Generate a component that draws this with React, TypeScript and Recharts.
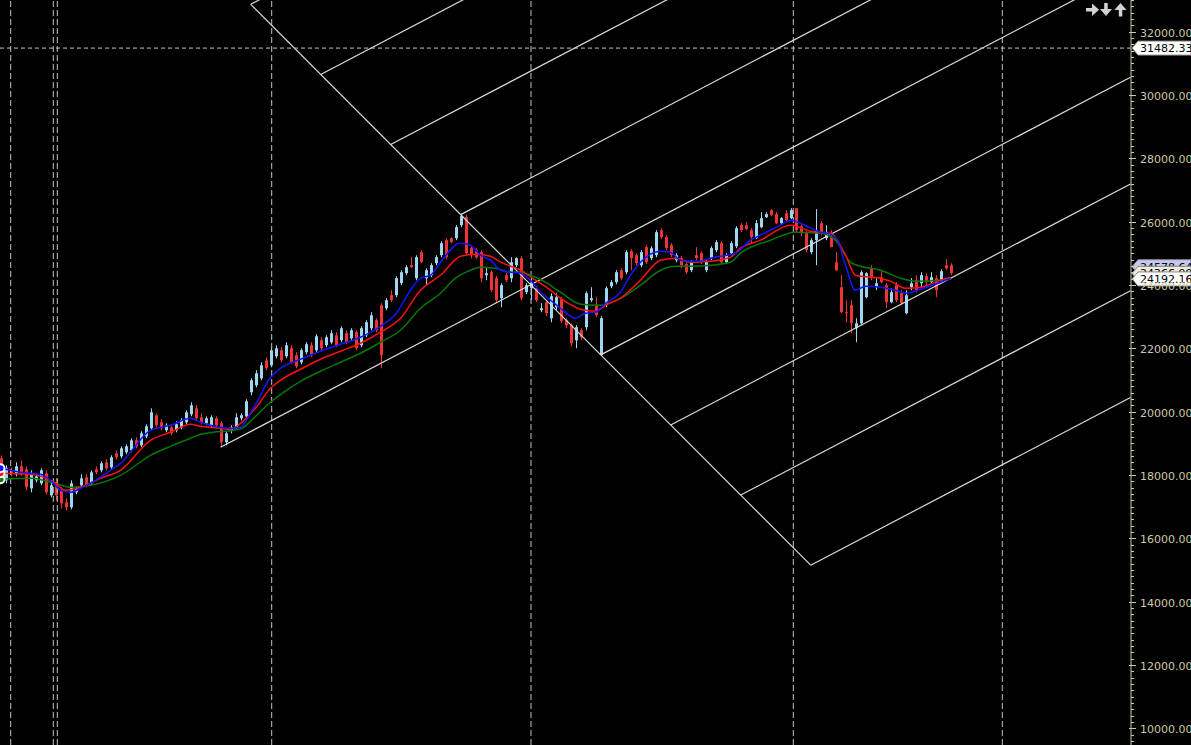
import React from "react";
import { ComposedChart, Bar, Line, XAxis, YAxis, ReferenceLine } from "recharts";

const W = 1191;
const H = 745;
const AXIS = "#cdc9a4";
const UP = "#9fd6f2";
const DOWN = "#ee3434";
const FORK = "#dcdcdc";
const GRID = "#c4c4c4";

// candles, one per bar index (0..190)
const opens = [
  18527, 17832, 18148, 18022, 18274, 18180, 17579, 17832, 17737, 18053,
  17358, 17769, 17516, 17137, 16979, 17453, 17674, 17927, 17737, 18180,
  18148, 18401, 18243, 18685, 18590, 18717, 18780, 19096, 18938, 19222,
  19475, 19886, 19665, 19412, 19507, 19412, 19507, 19665, 19918, 20107,
  19823, 19633, 19570, 19791, 19633, 19033, 19412, 19507, 19791, 19854,
  20613, 20834, 21055, 21624, 21466, 21750, 21940, 21750, 22003, 21782,
  21561, 21877, 22098, 21940, 22256, 22098, 22193, 22414, 22256, 22477,
  22319, 22509, 22098, 22414, 22635, 22888, 23362, 23267, 23678, 23678,
  24057, 24373, 24626, 24215, 25037, 24215, 24310, 24689, 24942, 25416,
  25479, 25479, 25890, 26143, 25163, 25100, 25037, 24310, 24405, 24215,
  23583, 24310, 24215, 24626, 24847, 23773, 23899, 23899, 23204, 23457,
  22951, 23299, 23552, 22888, 22730, 22256, 22572, 22667, 23520, 23362,
  21790, 23362, 23962, 24089, 24468, 24405, 25068, 24942, 24626, 25195,
  24847, 24942, 25732, 25511, 25258, 24784, 24847, 24658, 24468, 24942,
  25005, 24468, 24847, 25100, 25321, 24721, 25005, 25226, 25890, 25890,
  25732, 25479, 25827, 26143, 26364, 26238, 25953, 26269, 26111, 26427,
  25858, 25637, 25037, 25416, 25953, 25479, 25511, 24721, 23931, 23141,
  23362, 22635, 22793, 23615, 24531, 23931, 24247, 23994, 23457, 23994,
  23741, 23109, 23931, 24152, 24057, 24278, 24089, 24215, 24120, 24626,
  24626,
];
const highs = [
  18622, 18306, 18243, 18401, 18464, 18274, 18148, 18022, 18211, 18148,
  17832, 17895, 17611, 17263, 17832, 17642, 18022, 18022, 18148, 18274,
  18432, 18496, 18622, 18780, 18906, 18970, 19159, 19191, 19380, 19602,
  20107, 19949, 19760, 19633, 19602, 19696, 19791, 20044, 20297, 20202,
  19949, 19854, 19886, 19854, 19696, 19380, 19570, 19949, 19949, 20392,
  21055, 21308, 21561, 21719, 22035, 22098, 22035, 22193, 22098, 21877,
  22003, 22193, 22193, 22446, 22351, 22414, 22572, 22509, 22698, 22572,
  22635, 22572, 22698, 22888, 23141, 22951, 23425, 23583, 23836, 24278,
  24468, 24626, 24879, 24942, 25100, 24531, 24689, 24942, 25384, 25479,
  25511, 25890, 26223, 26206, 25226, 25163, 25100, 24563, 24468, 24278,
  24057, 24405, 24879, 24879, 24910, 24057, 24215, 23962, 23425, 23520,
  23741, 23741, 23615, 22951, 22793, 22730, 22635, 23804, 23931, 23615,
  23014, 23962, 24152, 24468, 24531, 25100, 25132, 25005, 25100, 25258,
  25226, 25732, 25795, 25574, 25321, 25005, 24910, 24721, 24784, 25195,
  25068, 24784, 25226, 25416, 25384, 25005, 25384, 25858, 25953, 25985,
  25795, 26048, 26301, 26301, 26396, 26301, 26143, 26364, 26427, 26427,
  25922, 25700, 25479, 26396, 26016, 25890, 25732, 25037, 24310, 23520,
  23520, 22951, 24468, 24405, 24626, 24215, 24468, 24057, 23899, 24089,
  23836, 23836, 24215, 24310, 24405, 24373, 24405, 24310, 24500, 24816,
  24689,
];
const lows = [
  17895, 17737, 17958, 17958, 17958, 17516, 17453, 17769, 17674, 17390,
  17295, 17200, 16947, 16884, 16916, 17390, 17611, 17611, 17674, 18022,
  18085, 18148, 18180, 18496, 18527, 18654, 18717, 18843, 18875, 19159,
  19412, 19507, 19412, 19349, 19254, 19349, 19444, 19602, 19854, 19728,
  19602, 19570, 19507, 19507, 18875, 18938, 19317, 19444, 19728, 19791,
  20518, 20771, 20992, 21308, 21403, 21687, 21561, 21687, 21498, 21371,
  21498, 21814, 21719, 21877, 21940, 22035, 22130, 22035, 22193, 22130,
  22256, 21940, 22035, 22351, 22572, 22509, 21371, 23204, 23457, 23615,
  23994, 24310, 24531, 24152, 24689, 23994, 24247, 24626, 24879, 24816,
  25321, 25416, 25827, 24942, 24847, 24816, 24089, 24152, 23773, 23425,
  23299, 24089, 24089, 24563, 23520, 23710, 23520, 23457, 23141, 23014,
  22825, 23204, 22793, 22635, 22066, 22003, 22256, 22572, 23457, 22983,
  21790, 23299, 23899, 24026, 24152, 24342, 24468, 24626, 24563, 24658,
  24784, 24879, 25448, 25100, 24879, 24721, 24531, 24342, 24405, 24784,
  24658, 24405, 24784, 25037, 24658, 24658, 24942, 25163, 25669, 25732,
  25321, 25448, 25795, 26111, 26174, 25922, 25922, 26016, 26080, 25669,
  25542, 25037, 24974, 24626, 25574, 25416, 25195, 24436, 23109, 22825,
  22477, 22193, 22730, 23583, 24152, 23836, 24057, 23267, 23425, 23457,
  23362, 23078, 23836, 23773, 23931, 23931, 24057, 23615, 24057, 24468,
  24310,
];
const closes = [
  18085, 18211, 18022, 18274, 18022, 17611, 18053, 17958, 18148, 17453,
  17674, 17358, 17105, 16979, 17737, 17579, 17895, 17674, 18085, 18085,
  18369, 18211, 18559, 18559, 18843, 18906, 19096, 18906, 19317, 19538,
  19981, 19570, 19475, 19570, 19317, 19602, 19728, 19981, 20202, 19791,
  19665, 19791, 19823, 19570, 19033, 19317, 19507, 19823, 19886, 20328,
  20992, 21213, 21466, 21371, 21940, 22003, 21624, 22098, 21561, 21434,
  21940, 22130, 21782, 22382, 22003, 22351, 22477, 22098, 22635, 22193,
  22572, 22003, 22635, 22825, 23046, 22572, 21782, 23520, 23520, 24215,
  24405, 24563, 24563, 24879, 24721, 24468, 24626, 24879, 25321, 24879,
  25353, 25827, 26174, 25005, 24942, 24879, 24215, 24373, 23836, 23520,
  23994, 24152, 24721, 24847, 23583, 23994, 24057, 23520, 23267, 23109,
  23646, 23615, 22856, 22730, 22161, 22667, 22351, 23741, 23583, 23046,
  22951, 23899, 24089, 24405, 24215, 25037, 24847, 24689, 25037, 24721,
  25163, 25669, 25511, 25163, 24942, 24942, 24626, 24405, 24721, 24847,
  24721, 24721, 25163, 25353, 24721, 24942, 25321, 25795, 25732, 25764,
  25511, 25953, 26111, 26238, 26206, 25953, 26111, 26048, 26364, 25732,
  25637, 25100, 25416, 25732, 25637, 25637, 25195, 24468, 23141, 23109,
  22793, 22793, 24405, 24373, 24215, 24057, 24089, 23457, 23773, 23520,
  23425, 23678, 24057, 23836, 24310, 24089, 24247, 23836, 24436, 24531,
  24373,
];

// moving averages, read at sample bars
const fastIdx = [0, 4, 8, 10.6, 12, 14, 16, 19, 22, 24, 30, 34, 38, 40, 46, 48, 50, 52, 53.6, 56, 60, 64, 68, 72, 76, 79, 82, 84, 86, 88, 92, 94, 96, 98, 100, 102, 104, 106, 108, 110, 112, 115, 117, 119, 121, 124, 126, 128, 130, 132, 134, 136, 138, 140, 142, 144, 147, 150, 152, 156, 158, 160, 162, 164, 166, 167.4, 169, 171, 173, 176, 179, 181, 184, 188, 190];
const fastVals = [18211, 18085, 18022, 17737, 17516, 17453, 17579, 17832, 18148, 18369, 19412, 19570, 19791, 19665, 19475, 19507, 19949, 20518, 20992, 21371, 21656, 21909, 22130, 22351, 22698, 23078, 23836, 24215, 24310, 24721, 25321, 25258, 24942, 24784, 24468, 24405, 24373, 24152, 23773, 23520, 23267, 22951, 23109, 23141, 23425, 23773, 24310, 24721, 24974, 25068, 25037, 24784, 24752, 24752, 24847, 24910, 25005, 25416, 25574, 25890, 26048, 25953, 25795, 25669, 25606, 25416, 24626, 23836, 23962, 23931, 23836, 23741, 23868, 24089, 24215];
const midIdx = [0, 6, 11, 13, 16, 20, 24, 30, 34, 38, 40, 44, 46, 48, 51, 54, 56, 60, 64, 68, 72, 76, 80, 84, 88, 92, 95, 98, 100, 104, 107, 110, 112, 116, 119, 121, 124, 128, 132, 135, 138, 142, 146, 148, 152, 158, 162, 166, 169, 171, 174, 176, 178, 181, 184, 188, 190];
const midVals = [18053, 18022, 17737, 17516, 17611, 17895, 18148, 19096, 19349, 19602, 19538, 19475, 19444, 19633, 20107, 20739, 20992, 21340, 21656, 21909, 22161, 22509, 22951, 23836, 24310, 24910, 24974, 24910, 24721, 24468, 24152, 23836, 23583, 23236, 23172, 23362, 23583, 24152, 24784, 24847, 24721, 24752, 24879, 25163, 25416, 25890, 25700, 25637, 24942, 24310, 24247, 24215, 24120, 23899, 23931, 24152, 24247];
const slowIdx = [0, 6, 11, 14, 18, 24, 30, 34, 38, 40, 42.6, 46.6, 48.6, 50.6, 54, 56.6, 60, 64, 68, 72, 76, 80, 84, 88, 91, 94, 96, 99, 102, 104, 106, 109, 112, 116, 120, 124, 128, 132, 135, 138, 142, 146, 148, 154, 159, 164, 167, 170, 172, 176, 180, 183, 188, 190];
const slowVals = [17864, 17895, 17737, 17611, 17674, 17990, 18622, 18906, 19159, 19286, 19349, 19412, 19507, 19791, 20297, 20613, 20960, 21276, 21561, 21845, 22193, 22572, 23267, 23741, 24215, 24468, 24563, 24531, 24405, 24405, 24310, 24089, 23773, 23394, 23362, 23583, 23994, 24468, 24594, 24594, 24626, 24721, 25005, 25416, 25669, 25637, 25416, 24721, 24594, 24468, 24215, 24120, 24152, 24184];

// drawing tools: the falling handle and its parallels
const handleX = [50.04, 162.04];
const handleY = [32865, 15153];
const forkStartX = [50.04, 64.04, 78.04, 92.04, 44, 120.04, 134.04, 148.04, 162.04];
const forkStartY = [32865, 30651, 28437, 26223, 18875, 21795, 19581, 17367, 15153];
const forkEndX = [226, 226, 226, 226, 226, 226, 226, 226, 226];
const forkEndY = [47426, 44053, 40681, 37308, 33936, 30563, 27191, 23818, 20446];

// period separators and price tags
const separators = [2.04, 10.56, 11.36, 54.24, 106.1, 158.56, 200.36];
const crossPrice = 31482.33;
const tagPrices = [24578.64, 24366.99, 24192.16];
const tagFills = ["#c6c6ee", "#ecebdc", "#ffffff"];

const yTicks: number[] = [];
for (let v = 9600; v <= 33000; v += 200) yTicks.push(v);

const candleData = opens.map((o, i) => ({ i, o, h: highs[i], l: lows[i], c: closes[i] }));
const toSeries = (idx: number[], vals: number[]) => idx.map((i, k) => ({ i, v: vals[k] }));
const fastData = toSeries(fastIdx, fastVals);
const midData = toSeries(midIdx, midVals);
const slowData = toSeries(slowIdx, slowVals);

function CandleShape(props: any) {
  const { x, y, width, height, payload } = props;
  if (x == null || !payload) return null;
  const { o, h, l, c } = payload;
  const color = c >= o ? UP : DOWN;
  const top = Math.min(y, y + height);
  const hh = Math.abs(height);
  const k = h === l ? 0 : hh / (h - l);
  const bTop = top + (h - Math.max(o, c)) * k;
  const bBot = top + (h - Math.min(o, c)) * k;
  const bx = Math.round(x);
  const cx = bx + 1.5;
  return (
    <g>
      <line x1={cx} x2={cx} y1={top} y2={top + hh} stroke={color} strokeWidth={1} />
      <rect x={bx} y={bTop} width={3} height={Math.max(1, bBot - bTop)} fill={color} />
    </g>
  );
}

function AxisTick(props: any) {
  const { x, y, payload } = props;
  const v = payload.value;
  const major = v % 2000 === 0;
  const yy = Math.round(y) + 0.5;
  return (
    <g>
      <line x1={major ? x - 2 : x} x2={x + (major ? 5 : 3)} y1={yy} y2={yy} stroke={AXIS} strokeWidth={1} />
      {major && (
        <text x={x + 9} y={yy} dy={4} fill={AXIS} fontSize={11} fontFamily="DejaVu Sans">
          {v.toFixed(2)}
        </text>
      )}
    </g>
  );
}

function PriceTag({ viewBox, text, fill }: any) {
  if (!viewBox) return null;
  const x0 = viewBox.x + viewBox.width;
  const yc = viewBox.y;
  const d = `M${x0 + 1},${yc} L${x0 + 7},${yc - 7} L${W},${yc - 7} L${W},${yc + 7} L${x0 + 7},${yc + 7} Z`;
  return (
    <g>
      <path d={d} fill={fill} stroke="#8a8a8a" strokeWidth={1} />
      <text x={x0 + 9} y={yc} dy={4} fill="#000" fontSize={11} fontFamily="DejaVu Sans">
        {text}
      </text>
    </g>
  );
}

// toolbar arrows at the top-right corner
function Arrows() {
  return (
    <svg width={50} height={20} style={{ position: "absolute", left: 1082, top: 0 }}>
      <g fill="#d2d2d2">
        <rect x={4} y={8} width={7} height={3.5} />
        <polygon points="10,3.5 17,9.8 10,16" />
        <rect x={22.2} y={3} width={3.5} height={7} />
        <polygon points="18,9 30,9 24,16" />
        <polygon points="32.5,10 44.5,10 38.5,3" />
        <rect x={36.8} y={9.5} width={3.5} height={7} />
      </g>
    </svg>
  );
}

export default function App() {
  return (
    <div style={{ position: "absolute", left: 0, top: 0, width: W, height: H, background: "#000", overflow: "hidden" }}>
      <ComposedChart width={W} height={H} data={candleData} margin={{ top: 0, right: 0, bottom: 0, left: 0 }}>
        <XAxis type="number" dataKey="i" domain={[-0.1, 226.1]} allowDataOverflow hide />
        <YAxis
          orientation="right"
          width={60}
          domain={[9474, 33001]}
          allowDataOverflow
          ticks={yTicks}
          interval={0}
          tick={<AxisTick />}
          tickLine={false}
          tickSize={0}
          tickMargin={0}
          axisLine={{ stroke: AXIS }}
        />
        {separators.map((s, k) => (
          <ReferenceLine key={"s" + k} x={s} stroke={GRID} strokeDasharray="6 3" ifOverflow="visible" />
        ))}
        <ReferenceLine
          segment={[{ x: handleX[0], y: handleY[0] }, { x: handleX[1], y: handleY[1] }]}
          stroke={FORK}
          strokeWidth={1.2}
          ifOverflow="visible"
        />
        {forkStartX.map((sx, k) => (
          <ReferenceLine
            key={"f" + k}
            segment={[{ x: sx, y: forkStartY[k] }, { x: forkEndX[k], y: forkEndY[k] }]}
            stroke={FORK}
            strokeWidth={1.2}
            ifOverflow="visible"
          />
        ))}
        <Line data={slowData} dataKey="v" type="monotone" stroke="#007a00" strokeWidth={1.5} dot={false} isAnimationActive={false} />
        <Line data={midData} dataKey="v" type="monotone" stroke="#ff1010" strokeWidth={1.5} dot={false} isAnimationActive={false} />
        <Line data={fastData} dataKey="v" type="monotone" stroke="#1414ff" strokeWidth={1.5} dot={false} isAnimationActive={false} />
        <Bar dataKey={(d: any) => [d.l, d.h]} barSize={3} shape={(p: any) => <CandleShape {...p} />} isAnimationActive={false} />
        <ReferenceLine
          y={crossPrice}
          stroke={GRID}
          strokeDasharray="4 3"
          ifOverflow="visible"
          label={{ content: (p: any) => <PriceTag viewBox={p.viewBox} text={crossPrice.toFixed(2)} fill="#ffffff" /> }}
        />
        {tagPrices.map((v, k) => (
          <ReferenceLine
            key={"t" + k}
            y={v}
            stroke="none"
            ifOverflow="visible"
            label={{ content: (p: any) => <PriceTag viewBox={p.viewBox} text={v.toFixed(2)} fill={tagFills[k]} /> }}
          />
        ))}
      </ComposedChart>
      <Arrows />
    </div>
  );
}
